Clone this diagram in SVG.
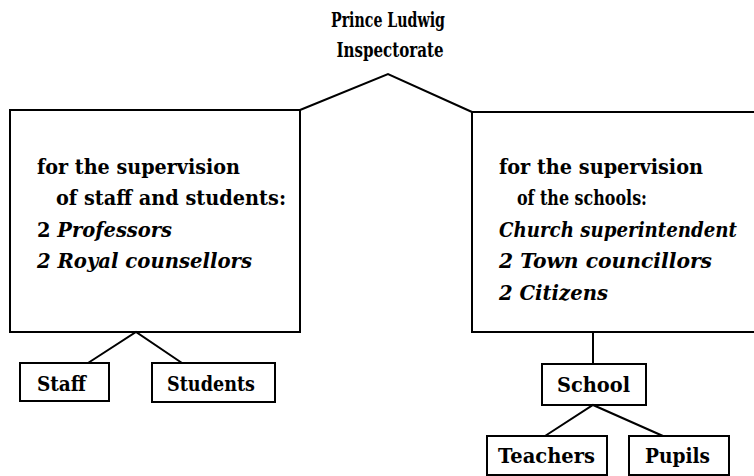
<svg xmlns="http://www.w3.org/2000/svg" width="754" height="476" viewBox="0 0 754 476">
<style>
text{font-family:"DejaVu Serif","Liberation Serif",serif;font-weight:bold;font-size:20px;fill:#000}
.i{font-style:italic}
.lbl{font-size:21px}
.top{font-size:21px}
.box{fill:none;stroke:#000;stroke-width:2}
.c{fill:none;stroke:#000;stroke-width:2}
</style>
<rect width="754" height="476" fill="#fff"/>
<g id="connectors">
<polyline class="c" points="300,110 388,74 472,112"/>
<polyline class="c" points="88,363 136,332 182,363"/>
<line class="c" x1="593" y1="332" x2="593" y2="364"/>
<polyline class="c" points="545,436 593,405 663,436"/>
</g>
<g id="inspectorate">
<text x="388" y="27" class="top" text-anchor="middle" textLength="114" lengthAdjust="spacingAndGlyphs">Prince Ludwig</text>
<text x="390" y="57" class="top" text-anchor="middle" textLength="107" lengthAdjust="spacingAndGlyphs">Inspectorate</text>
</g>
<g id="staff-students-board">
<rect class="box" x="10" y="110" width="290" height="222"/>
<text x="37" y="174" textLength="203" lengthAdjust="spacingAndGlyphs">for the supervision</text>
<text x="56" y="205" textLength="230" lengthAdjust="spacingAndGlyphs">of staff and students:</text>
<text x="37" y="237" textLength="135" lengthAdjust="spacingAndGlyphs">2 <tspan class="i">Professors</tspan></text>
<text x="37" y="268" class="i" textLength="215" lengthAdjust="spacingAndGlyphs">2 Royal counsellors</text>
</g>
<g id="schools-board">
<path class="box" d="M756,112 H472 V332 H756"/>
<text x="499" y="174" textLength="204" lengthAdjust="spacingAndGlyphs">for the supervision</text>
<text x="517" y="205" textLength="130" lengthAdjust="spacingAndGlyphs">of the schools:</text>
<text x="499" y="237" class="i" textLength="238" lengthAdjust="spacingAndGlyphs">Church superintendent</text>
<text x="499" y="268" class="i" textLength="213" lengthAdjust="spacingAndGlyphs">2 Town councillors</text>
<text x="499" y="300" class="i" textLength="109" lengthAdjust="spacingAndGlyphs">2 Citizens</text>
</g>
<g id="staff">
<rect class="box" x="20" y="363" width="89" height="38"/>
<text x="37" y="391" class="lbl" textLength="49" lengthAdjust="spacingAndGlyphs">Staff</text>
</g>
<g id="students">
<rect class="box" x="152" y="363" width="123" height="39"/>
<text x="167" y="391" class="lbl" textLength="88" lengthAdjust="spacingAndGlyphs">Students</text>
</g>
<g id="school">
<rect class="box" x="542" y="364" width="104" height="41"/>
<text x="557" y="392" class="lbl" textLength="73" lengthAdjust="spacingAndGlyphs">School</text>
</g>
<g id="teachers">
<rect class="box" x="487" y="436" width="120" height="39"/>
<text x="498" y="463" class="lbl" textLength="97" lengthAdjust="spacingAndGlyphs">Teachers</text>
</g>
<g id="pupils">
<rect class="box" x="629" y="436" width="100" height="39"/>
<text x="645" y="463" class="lbl" textLength="65" lengthAdjust="spacingAndGlyphs">Pupils</text>
</g>
</svg>
